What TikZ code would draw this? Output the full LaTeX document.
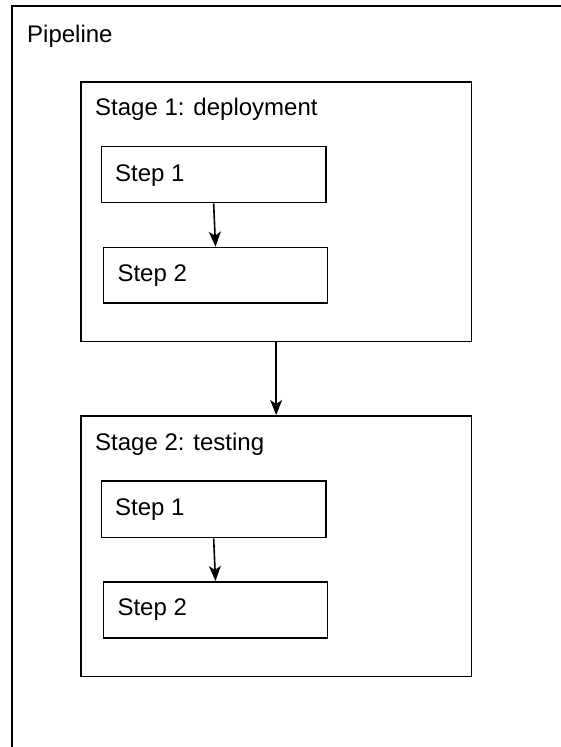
\documentclass[tikz,border=0pt]{standalone}
\usepackage{fontspec}
\setmainfont{Liberation Sans}
\usetikzlibrary{arrows.meta}
\begin{document}
\begin{tikzpicture}[x=1pt,y=-1pt,
  box/.style={draw=black,line width=1.6pt,fill=white,rectangle,inner sep=0pt,anchor=north west},
  frame/.style={draw=black,line width=1.6pt},
  lbl/.style={inner sep=0pt,anchor=base west,font=\fontsize{24}{28}\selectfont},
  conn/.style={draw=black,line width=1.6pt,-{Stealth[length=15pt,width=12pt,inset=4pt]}}]
\useasboundingbox (0,0) rectangle (560,747);
\fill[white] (-20,-20) rectangle (580,767);
% outer pipeline frame (runs beyond the right and bottom edges of the picture)
\coordinate (pipeNW) at (12,6);
\coordinate (pipeSW) at (12,767);
\coordinate (pipeNE) at (580,6);
\draw[frame] (pipeSW) -- (pipeNW) -- (pipeNE);
\node[lbl] (pipelbl) at (27,42) {Pipeline};
% stage 1
\node[box,minimum width=390.7pt,minimum height=259.7pt] (st1) at (80,81) {};
\node[lbl] (st1lbl) at (95,115) {Stage 1: deployment};
\node[box,minimum width=224.3pt,minimum height=56pt] (a1) at (100.7,145.7) {};
\node[lbl] (a1lbl) at (115,181.7) {Step 1};
\node[box,minimum width=224pt,minimum height=55.6pt] (a2) at (102.7,246.7) {};
\node[lbl] (a2lbl) at (117.3,281.7) {Step 2};
% stage 2
\node[box,minimum width=390.7pt,minimum height=260.7pt] (st2) at (80,415) {};
\node[lbl] (st2lbl) at (95,450) {Stage 2: testing};
\node[box,minimum width=224.3pt,minimum height=56.7pt] (b1) at (100.7,480) {};
\node[lbl] (b1lbl) at (115,515) {Step 1};
\node[box,minimum width=224pt,minimum height=56.3pt] (b2) at (102.7,581) {};
\node[lbl] (b2lbl) at (117.3,615) {Step 2};
% connectors
\draw[conn] (a1.south) -- (a2.north);
\draw[conn] (st1.south) -- (st2.north);
\draw[conn] (b1.south) -- (b2.north);
\end{tikzpicture}
\end{document}
